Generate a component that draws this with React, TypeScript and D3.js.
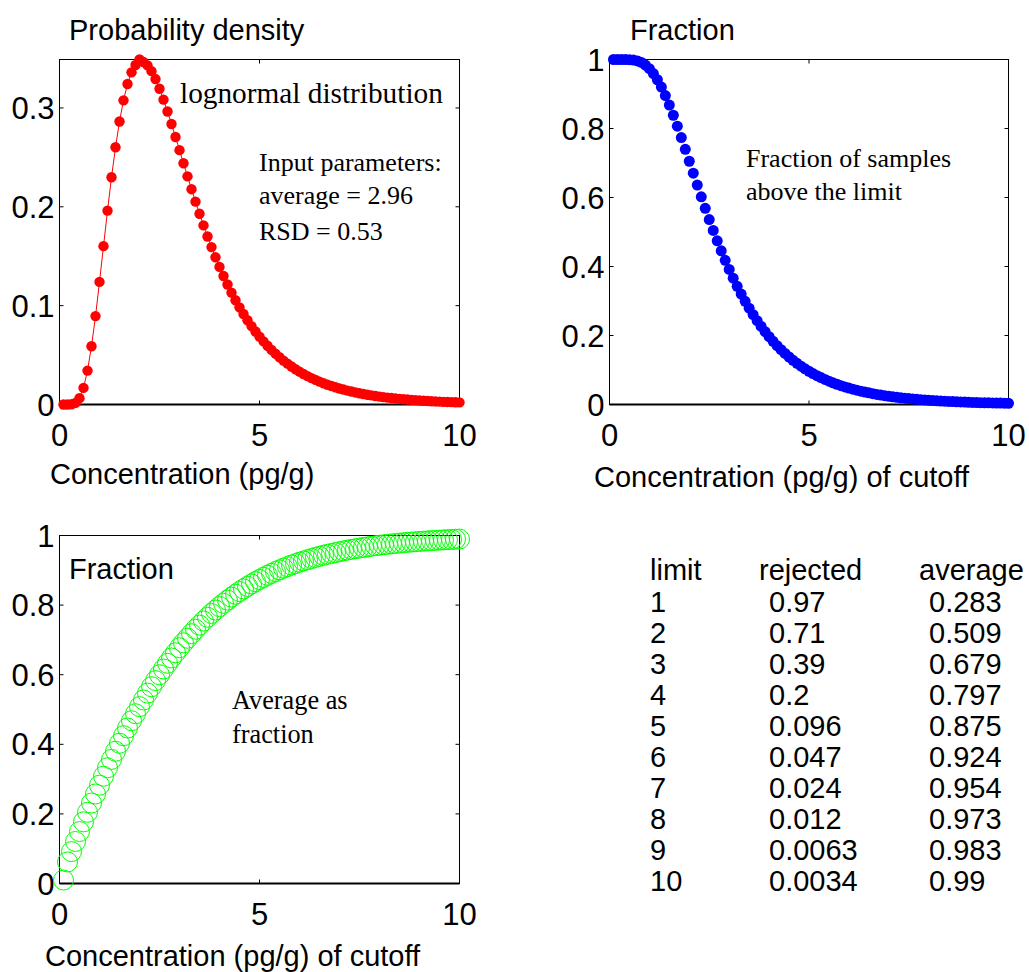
import React, { useRef, useEffect } from 'react';
import * as d3 from 'd3';

// concentration grid (pg/g)
const concentration = [
  0.1, 0.2, 0.3, 0.4, 0.5, 0.6, 0.7, 0.8, 0.9, 1.0,
  1.1, 1.2, 1.3, 1.4, 1.5, 1.6, 1.7, 1.8, 1.9, 2.0,
  2.1, 2.2, 2.3, 2.4, 2.5, 2.6, 2.7, 2.8, 2.9, 3.0,
  3.1, 3.2, 3.3, 3.4, 3.5, 3.6, 3.7, 3.8, 3.9, 4.0,
  4.1, 4.2, 4.3, 4.4, 4.5, 4.6, 4.7, 4.8, 4.9, 5.0,
  5.1, 5.2, 5.3, 5.4, 5.5, 5.6, 5.7, 5.8, 5.9, 6.0,
  6.1, 6.2, 6.3, 6.4, 6.5, 6.6, 6.7, 6.8, 6.9, 7.0,
  7.1, 7.2, 7.3, 7.4, 7.5, 7.6, 7.7, 7.8, 7.9, 8.0,
  8.1, 8.2, 8.3, 8.4, 8.5, 8.6, 8.7, 8.8, 8.9, 9.0,
  9.1, 9.2, 9.3, 9.4, 9.5, 9.6, 9.7, 9.8, 9.9, 10.0,
];

// probability density (red)
const density = [
  0, 0, 0.0002, 0.0016, 0.0064, 0.0168, 0.0343, 0.0589, 0.0894, 0.1240,
  0.1602, 0.1961, 0.2299, 0.2602, 0.2863, 0.3077, 0.3242, 0.3360, 0.3434, 0.3490,
  0.3464, 0.3431, 0.3372, 0.3292, 0.3194, 0.3084, 0.2964, 0.2837, 0.2706, 0.2573,
  0.2440, 0.2308, 0.2178, 0.2052, 0.1930, 0.1812, 0.1700, 0.1592, 0.1489, 0.1392,
  0.1300, 0.1214, 0.1132, 0.1055, 0.0983, 0.0916, 0.0852, 0.0793, 0.0738, 0.0687,
  0.0639, 0.0594, 0.0552, 0.0514, 0.0478, 0.0444, 0.0413, 0.0384, 0.0357, 0.0332,
  0.0309, 0.0287, 0.0267, 0.0249, 0.0231, 0.0215, 0.0200, 0.0187, 0.0174, 0.0162,
  0.0151, 0.0140, 0.0131, 0.0122, 0.0114, 0.0106, 0.0099, 0.0092, 0.0086, 0.0080,
  0.0075, 0.0070, 0.0065, 0.0061, 0.0057, 0.0053, 0.0050, 0.0047, 0.0044, 0.0041,
  0.0038, 0.0036, 0.0033, 0.0031, 0.0029, 0.0027, 0.0026, 0.0024, 0.0023, 0.0021,
];

// fraction of samples above the limit (blue)
const fractionAbove = [
  1, 1, 1, 0.9999, 0.9996, 0.9985, 0.9960, 0.9914, 0.9840, 0.9733,
  0.9592, 0.9413, 0.9200, 0.8954, 0.8680, 0.8384, 0.8068, 0.7737, 0.7396, 0.7051,
  0.6704, 0.6359, 0.6019, 0.5686, 0.5361, 0.5047, 0.4745, 0.4455, 0.4178, 0.3914,
  0.3663, 0.3426, 0.3201, 0.2990, 0.2791, 0.2604, 0.2428, 0.2264, 0.2110, 0.1966,
  0.1831, 0.1706, 0.1588, 0.1479, 0.1377, 0.1282, 0.1194, 0.1112, 0.1035, 0.0964,
  0.0898, 0.0836, 0.0779, 0.0726, 0.0676, 0.0630, 0.0587, 0.0547, 0.0510, 0.0476,
  0.0444, 0.0414, 0.0386, 0.0360, 0.0337, 0.0314, 0.0293, 0.0274, 0.0256, 0.0239,
  0.0224, 0.0209, 0.0196, 0.0183, 0.0171, 0.0160, 0.0150, 0.0140, 0.0132, 0.0123,
  0.0115, 0.0108, 0.0101, 0.0095, 0.0089, 0.0084, 0.0079, 0.0074, 0.0069, 0.0065,
  0.0061, 0.0057, 0.0054, 0.0051, 0.0048, 0.0045, 0.0042, 0.0040, 0.0038, 0.0035,
];

// average as fraction (green)
const averageFraction = [
  0.010, 0.062, 0.0917, 0.1208, 0.1493, 0.1772, 0.2045, 0.2312, 0.2573, 0.2825,
  0.3083, 0.3327, 0.3566, 0.3799, 0.4029, 0.4248, 0.4468, 0.4678, 0.4879, 0.5083,
  0.5273, 0.5471, 0.5655, 0.5831, 0.5999, 0.6164, 0.6327, 0.6482, 0.6630, 0.6775,
  0.6916, 0.7048, 0.7178, 0.7305, 0.7424, 0.7541, 0.7650, 0.7759, 0.7858, 0.7958,
  0.8051, 0.8143, 0.8229, 0.8311, 0.8390, 0.8466, 0.8538, 0.8608, 0.8674, 0.8737,
  0.8797, 0.8856, 0.8911, 0.8963, 0.9013, 0.9061, 0.9106, 0.9151, 0.9192, 0.9231,
  0.9268, 0.9304, 0.9338, 0.9371, 0.9402, 0.9431, 0.9459, 0.9485, 0.9509, 0.9535,
  0.9559, 0.9580, 0.9601, 0.9620, 0.9639, 0.9657, 0.9673, 0.9689, 0.9705, 0.9720,
  0.9733, 0.9745, 0.9759, 0.9770, 0.9781, 0.9792, 0.9802, 0.9811, 0.9820, 0.9829,
  0.9837, 0.9845, 0.9853, 0.9860, 0.9866, 0.9874, 0.9880, 0.9886, 0.9892, 0.9897,
];

// summary table
const tableHeader = ['limit', 'rejected', 'average'];
const tableLimit = ['1', '2', '3', '4', '5', '6', '7', '8', '9', '10'];
const tableRejected = ['0.97', '0.71', '0.39', '0.2', '0.096', '0.047', '0.024', '0.012', '0.0063', '0.0034'];
const tableAverage = ['0.283', '0.509', '0.679', '0.797', '0.875', '0.924', '0.954', '0.973', '0.983', '0.99'];

const xTickValues = [0, 5, 10];
const densityTicks = [0, 0.1, 0.2, 0.3];
const fractionTicks = [0, 0.2, 0.4, 0.6, 0.8, 1];

const SANS = '"Liberation Sans", Arial, sans-serif';
const SERIF = '"Liberation Serif", "Times New Roman", serif';

const drawPanel = (svg, box, yDomain, yTicks) => {
  const x = d3.scaleLinear().domain([0, 10]).range([box.left, box.right]);
  const y = d3.scaleLinear().domain(yDomain).range([box.bottom, box.top]);
  const g = svg.append('g');
  const tick = 4;

  g.append('rect')
    .attr('x', box.left).attr('y', box.top)
    .attr('width', box.right - box.left).attr('height', box.bottom - box.top)
    .attr('fill', 'none').attr('stroke', '#000').attr('stroke-width', 1);
  g.append('line')
    .attr('x1', box.left).attr('x2', box.right)
    .attr('y1', box.bottom).attr('y2', box.bottom)
    .attr('stroke', '#000').attr('stroke-width', 2);

  xTickValues.forEach(t => {
    g.append('line').attr('x1', x(t)).attr('x2', x(t)).attr('y1', box.bottom).attr('y2', box.bottom - tick).attr('stroke', '#000');
    g.append('line').attr('x1', x(t)).attr('x2', x(t)).attr('y1', box.top).attr('y2', box.top + tick).attr('stroke', '#000');
    g.append('text').attr('x', x(t)).attr('y', box.bottom + 41)
      .attr('text-anchor', 'middle').attr('font-family', SANS).attr('font-size', 31)
      .text(t);
  });
  yTicks.forEach(t => {
    g.append('line').attr('x1', box.left).attr('x2', box.left + tick).attr('y1', y(t)).attr('y2', y(t)).attr('stroke', '#000');
    g.append('line').attr('x1', box.right - tick).attr('x2', box.right).attr('y1', y(t)).attr('y2', y(t)).attr('stroke', '#000');
    g.append('text').attr('x', box.left - 5).attr('y', y(t) + 11)
      .attr('text-anchor', 'end').attr('font-family', SANS).attr('font-size', 31)
      .text(String(+t.toFixed(1)));
  });
  return { x, y, g };
};

const addText = (svg, x, y, text, family, size) => {
  svg.append('text').attr('x', x).attr('y', y)
    .attr('font-family', family).attr('font-size', size).attr('fill', '#000')
    .text(text);
};

const App = () => {
  const ref = useRef(null);

  useEffect(() => {
    if (!ref.current) return;
    d3.select(ref.current).select('svg').remove();

    const svg = d3.select(ref.current)
      .append('svg')
      .attr('width', 1029)
      .attr('height', 972)
      .style('position', 'absolute')
      .style('left', 0)
      .style('top', 0)
      .style('background', '#fff');

    const pts = (ys) => concentration.map((c, i) => ({ c, v: ys[i] }));

    // panel 1: probability density
    const p1 = drawPanel(svg, { left: 59.5, right: 459.5, top: 59.5, bottom: 404.5 }, [0, 0.349], densityTicks);
    const line1 = d3.line().x(d => p1.x(d.c)).y(d => p1.y(d.v));
    p1.g.append('path').datum(pts(density))
      .attr('fill', 'none').attr('stroke', '#ff0000').attr('stroke-width', 1).attr('d', line1);
    p1.g.selectAll('.dot').data(pts(density)).enter().append('circle')
      .attr('cx', d => p1.x(d.c)).attr('cy', d => p1.y(d.v)).attr('r', 5.2)
      .attr('fill', '#ff0000');
    addText(svg, 69, 40, 'Probability density', SANS, 29);
    addText(svg, 180, 103, 'lognormal distribution', SERIF, 29.3);
    addText(svg, 259, 170.5, 'Input parameters:', SERIF, 26);
    addText(svg, 259, 204, 'average = 2.96', SERIF, 26);
    addText(svg, 259, 240, 'RSD = 0.53', SERIF, 26);
    addText(svg, 50, 484, 'Concentration (pg/g)', SANS, 29);

    // panel 2: fraction above the limit
    const p2 = drawPanel(svg, { left: 609.5, right: 1008.5, top: 59.5, bottom: 404.5 }, [0, 1], fractionTicks);
    p2.g.selectAll('.dot').data(pts(fractionAbove)).enter().append('circle')
      .attr('cx', d => p2.x(d.c)).attr('cy', d => p2.y(d.v)).attr('r', 5.5)
      .attr('fill', '#0000ff');
    addText(svg, 630, 40, 'Fraction', SANS, 29);
    addText(svg, 746, 166.5, 'Fraction of samples', SERIF, 26);
    addText(svg, 746, 200, 'above the limit', SERIF, 26);
    addText(svg, 594, 486.5, 'Concentration (pg/g) of cutoff', SANS, 29);

    // panel 3: average as fraction
    const p3 = drawPanel(svg, { left: 59.5, right: 459.5, top: 535.5, bottom: 883.5 }, [0, 1], fractionTicks);
    p3.g.selectAll('.ring').data(pts(averageFraction)).enter().append('circle')
      .attr('cx', d => p3.x(d.c)).attr('cy', d => p3.y(d.v)).attr('r', 10)
      .attr('fill', 'none').attr('stroke', '#00ff00').attr('stroke-width', 1);
    addText(svg, 69, 579, 'Fraction', SANS, 29);
    addText(svg, 232, 708.5, 'Average as', SERIF, 26.3);
    addText(svg, 232, 743, 'fraction', SERIF, 26.3);
    addText(svg, 45, 966, 'Concentration (pg/g) of cutoff', SANS, 29);

    // table
    const colX = [650, 759, 919];
    const valX = [650, 769, 929];
    tableHeader.forEach((h, i) => addText(svg, colX[i], 580, h, SANS, 29));
    tableLimit.forEach((l, i) => {
      const yy = 612.3 + i * 30.96;
      addText(svg, valX[0], yy, l, SANS, 29);
      addText(svg, valX[1], yy, tableRejected[i], SANS, 29);
      addText(svg, valX[2], yy, tableAverage[i], SANS, 29);
    });
  }, []);

  return <div className="chart-container" ref={ref}></div>;
};

export default App;
